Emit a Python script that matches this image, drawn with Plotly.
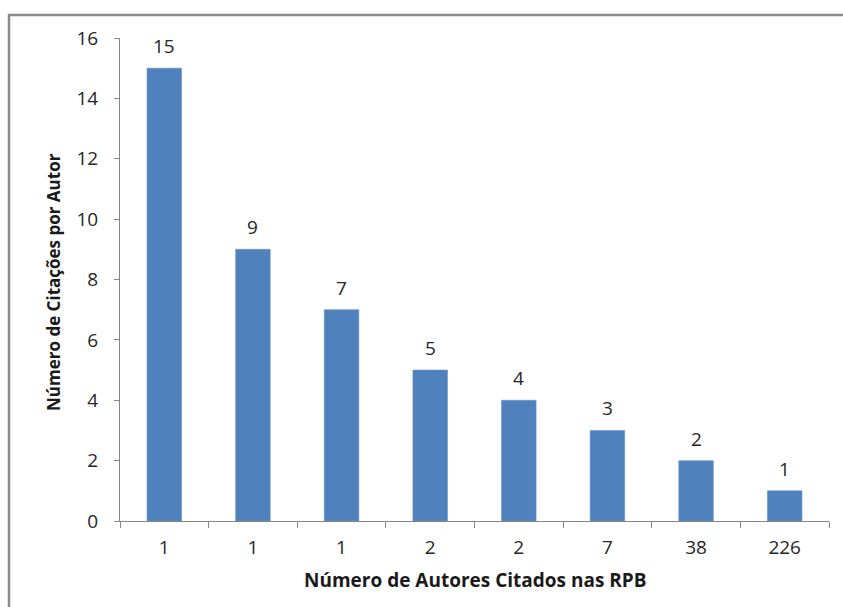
import plotly.graph_objects as go

# Distribution of citations per author
autores = ["1", "1", "1", "2", "2", "7", "38", "226"]
citacoes = [15, 9, 7, 5, 4, 3, 2, 1]
y_ticks = [0, 2, 4, 6, 8, 10, 12, 14, 16]

pos = list(range(len(autores)))
axis_grey = "#868686"
text_col = "#262626"
font_main = "Open Sans, Liberation Sans, sans-serif"

fig = go.Figure()
fig.add_trace(go.Bar(
    x=pos,
    y=citacoes,
    width=0.39,
    marker=dict(color="#4F81BD", line=dict(color="#6A94C8", width=0.6)),
    hoverinfo="skip",
))

L, R, T, B = 120, 14, 38, 86
W, H = 843, 607
pw, ph = W - L - R, H - T - B

# value labels above each bar
value_labels = [
    dict(
        x=p, y=v, xref="x", yref="y",
        text=str(v), showarrow=False,
        yanchor="bottom", yshift=7,
        font=dict(size=19, color=text_col, family=font_main),
    )
    for p, v in zip(pos, citacoes)
]

fig.update_layout(
    width=W, height=H,
    margin=dict(l=L, r=R, t=T, b=B),
    paper_bgcolor="white",
    plot_bgcolor="white",
    showlegend=False,
    font=dict(family=font_main, color=text_col),
    xaxis=dict(
        range=[-0.5, len(autores) - 0.5],
        tickmode="array",
        tickvals=pos,
        ticktext=autores,
        ticks="",
        tickfont=dict(size=19, color=text_col),
        showgrid=False,
        zeroline=False,
        showline=True,
        linecolor=axis_grey,
        linewidth=1,
        ticklabelstandoff=9,
        minor=dict(
            tickmode="array",
            tickvals=[p - 0.5 for p in pos] + [len(autores) - 0.5],
            ticks="outside",
            ticklen=6,
            tickcolor=axis_grey,
            tickwidth=1,
            showgrid=False,
        ),
    ),
    yaxis=dict(
        range=[0, 16],
        tickmode="array",
        tickvals=y_ticks,
        ticks="outside",
        ticklen=5,
        tickcolor=axis_grey,
        tickfont=dict(size=19, color=text_col),
        showgrid=False,
        zeroline=False,
        showline=True,
        linecolor=axis_grey,
        linewidth=1,
        ticklabelstandoff=12,
    ),
    annotations=value_labels + [
        dict(
            text="<b>Número de Autores Citados nas RPB</b>",
            xref="paper", yref="paper",
            x=(475 - L) / pw, y=-(580 - (T + ph)) / ph,
            xanchor="center", yanchor="middle",
            showarrow=False,
            font=dict(size=19, color="#1a1a1a", family=font_main),
        ),
        dict(
            text="<b>Número de Citações por Autor</b>",
            xref="paper", yref="paper",
            x=(53 - L) / pw, y=(T + ph - 282) / ph,
            xanchor="center", yanchor="middle",
            textangle=-90,
            showarrow=False,
            font=dict(size=17, color="#1a1a1a", family=font_main),
        ),
    ],
    shapes=[
        dict(
            type="rect",
            xref="paper", yref="paper",
            x0=(9 - L) / pw, x1=(W + 10 - L) / pw,
            y0=-(H + 10 - (T + ph)) / ph, y1=(T + ph - 15) / ph,
            line=dict(color="#8c8c8c", width=2.5),
            fillcolor="rgba(0,0,0,0)",
            layer="below",
        )
    ],
)

fig.write_html("out.html")
